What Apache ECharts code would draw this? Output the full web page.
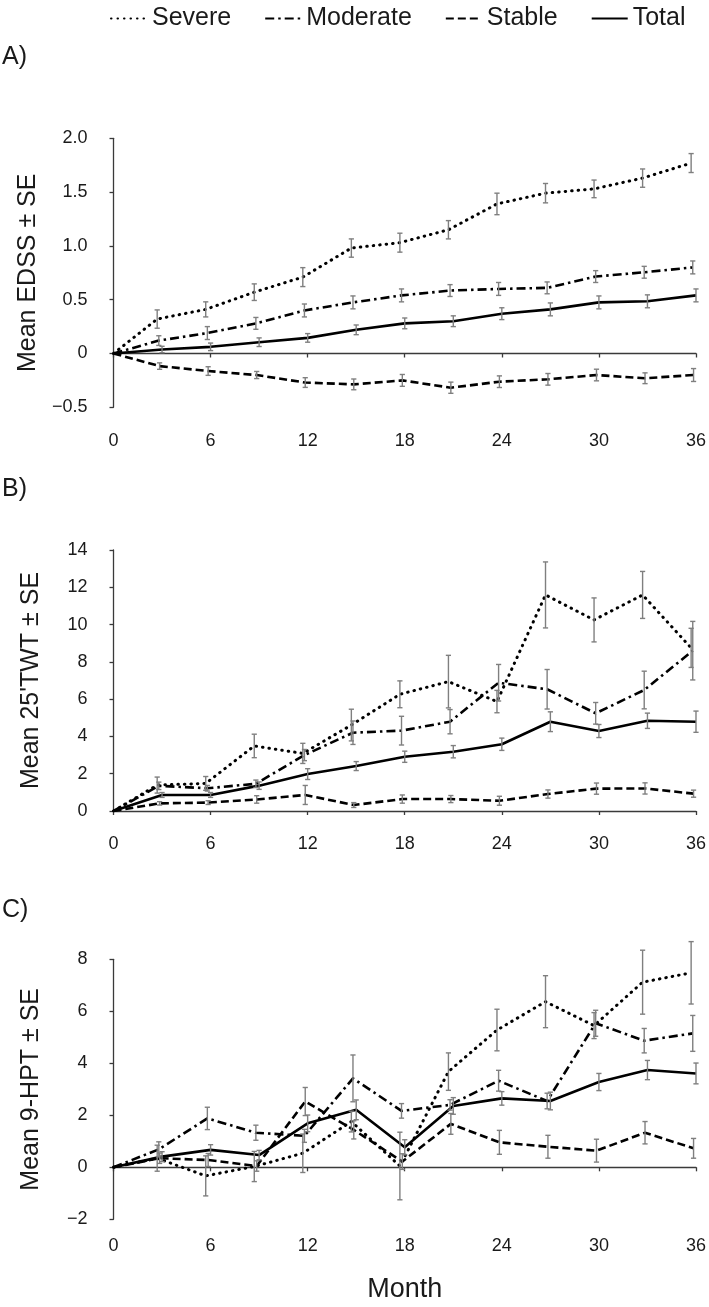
<!DOCTYPE html>
<html><head><meta charset="utf-8">
<script src="https://cdn.jsdelivr.net/npm/echarts@6.0.0/dist/echarts.min.js"></script>
<style>html,body{margin:0;padding:0;background:#fff}#c{width:709px;height:1307px}</style>
</head><body><div id="c"></div>
<script>
// ---------- DATA ----------
const months = [0, 3, 6, 9, 12, 15, 18, 21, 24, 27, 30, 33, 36];
const seriesNames = ['Severe', 'Moderate', 'Stable', 'Total'];

// A) EDSS
const edssSevere     = [0, 0.32, 0.41, 0.57, 0.71, 0.98, 1.03, 1.15, 1.39, 1.49, 1.53, 1.63, 1.77];
const edssSevereSE   = [0, 0.085, 0.07, 0.077, 0.088, 0.085, 0.088, 0.085, 0.10, 0.09, 0.082, 0.085, 0.088];
const edssModerate   = [0, 0.12, 0.19, 0.28, 0.40, 0.475, 0.54, 0.585, 0.60, 0.61, 0.715, 0.755, 0.80];
const edssModerateSE = [0, 0.045, 0.06, 0.055, 0.06, 0.06, 0.06, 0.055, 0.06, 0.055, 0.055, 0.055, 0.06];
const edssStable     = [0, -0.117, -0.163, -0.20, -0.27, -0.287, -0.25, -0.318, -0.262, -0.24, -0.20, -0.23, -0.20];
const edssStableSE   = [0, 0.03, 0.04, 0.033, 0.045, 0.05, 0.055, 0.052, 0.054, 0.054, 0.054, 0.05, 0.06];
const edssTotal      = [0, 0.037, 0.062, 0.105, 0.145, 0.22, 0.28, 0.30, 0.37, 0.41, 0.475, 0.485, 0.54];
const edssTotalSE    = [0, 0.03, 0.035, 0.04, 0.04, 0.045, 0.05, 0.05, 0.055, 0.06, 0.06, 0.06, 0.06];

// B) 25'TWT
const twtSevere     = [0, 1.39, 1.48, 3.49, 3.09, 4.61, 6.26, 6.94, 5.87, 11.59, 10.25, 11.59, 8.75];
const twtSevereSE   = [0, 0.43, 0.37, 0.63, 0.54, 0.85, 0.72, 1.41, 0.60, 1.77, 1.18, 1.26, 1.05];
const twtModerate   = [0, 1.35, 1.22, 1.46, 3.00, 4.20, 4.31, 4.79, 6.88, 6.53, 5.24, 6.49, 8.60];
const twtModerateSE = [0, 0.20, 0.15, 0.20, 0.30, 0.63, 0.77, 0.65, 0.98, 1.06, 0.58, 1.01, 1.57];
const twtStable     = [0, 0.41, 0.45, 0.62, 0.86, 0.32, 0.64, 0.64, 0.55, 0.91, 1.20, 1.21, 0.93];
const twtStableSE   = [0, 0.09, 0.10, 0.20, 0.51, 0.13, 0.22, 0.19, 0.24, 0.22, 0.30, 0.30, 0.19];
const twtTotal      = [0, 0.86, 0.86, 1.36, 1.98, 2.41, 2.91, 3.18, 3.58, 4.79, 4.29, 4.84, 4.79];
const twtTotalSE    = [0, 0.13, 0.13, 0.20, 0.29, 0.24, 0.30, 0.33, 0.33, 0.53, 0.35, 0.41, 0.57];

// C) 9-HPT
const hptSevere     = [0, 0.35, -0.33, 0.03, 0.54, 1.76, 0.05, 3.68, 5.28, 6.37, 5.45, 7.12, 7.48];
const hptSevereSE   = [0, 0.50, 0.77, 0.58, 0.74, 0.40, 1.30, 0.72, 0.80, 1.00, 0.50, 1.23, 1.20];
const hptModerate   = [0, 0.69, 1.88, 1.33, 1.21, 3.42, 2.17, 2.40, 3.33, 2.55, 5.54, 4.87, 5.15];
const hptModerateSE = [0, 0.29, 0.43, 0.29, 0.25, 0.90, 0.28, 0.20, 0.40, 0.30, 0.50, 0.47, 0.69];
const hptStable     = [0, 0.35, 0.28, 0.05, 2.53, 1.44, 0.22, 1.67, 0.96, 0.79, 0.64, 1.33, 0.73];
const hptStableSE   = [0, 0.20, 0.25, 0.20, 0.54, 0.35, 0.30, 0.40, 0.46, 0.44, 0.44, 0.43, 0.38];
const hptTotal      = [0, 0.41, 0.67, 0.47, 1.69, 2.21, 0.77, 2.36, 2.65, 2.55, 3.28, 3.74, 3.61];
const hptTotalSE    = [0, 0.19, 0.20, 0.18, 0.32, 0.38, 0.29, 0.32, 0.26, 0.34, 0.33, 0.37, 0.40];

const panelLabels = ['A)', 'B)', 'C)'];
const yTitles = ['Mean EDSS \u00b1 SE', "Mean 25'TWT \u00b1 SE", 'Mean 9-HPT \u00b1 SE'];
const xTitle = 'Month';

// ---------- STYLE ----------
const FONT = '"Liberation Sans", Arial, sans-serif';
const AXIS_COLOR = '#3a3a3a';
const TEXT_COLOR = '#1a1a1a';
const ERR_COLOR = '#7f7f7f';
const dodge = { Severe: -0.3, Moderate: -0.2, Stable: -0.15, Total: 0 };
const lineStyles = {
  Severe:   { type: [0.5, 6], cap: 'round', width: 3 },
  Moderate: { type: [9, 4, 2.5, 4], cap: 'butt', width: 2.6 },
  Stable:   { type: [8, 4], cap: 'butt', width: 2.6 },
  Total:    { type: 'solid', cap: 'butt', width: 2.6 }
};

const panels = [
  { means: [edssSevere, edssModerate, edssStable, edssTotal], ses: [edssSevereSE, edssModerateSE, edssStableSE, edssTotalSE],
    min: -0.5, max: 2, interval: 0.5, dec: 1, top: 138.3, bottom: 407.3, xOffset: 17 },
  { means: [twtSevere, twtModerate, twtStable, twtTotal], ses: [twtSevereSE, twtModerateSE, twtStableSE, twtTotalSE],
    min: 0, max: 14, interval: 2, dec: 0, top: 550, bottom: 811, xOffset: 16 },
  { means: [hptSevere, hptModerate, hptStable, hptTotal], ses: [hptSevereSE, hptModerateSE, hptStableSE, hptTotalSE],
    min: -2, max: 8, interval: 2, dec: 0, top: 959.3, bottom: 1219.3, xOffset: 10 }
];
const labelCenters = [60, 492, 913];

function xOf(m, name) { return m === 0 ? 0 : m + dodge[name]; }

function errRender(params, api) {
  const x = api.value(0), lo = api.value(1), hi = api.value(2);
  const a = api.coord([x, hi]), b = api.coord([x, lo]);
  const w = 2.6;
  const st = { stroke: ERR_COLOR, lineWidth: 1.4 };
  return { type: 'group', children: [
    { type: 'line', shape: { x1: a[0], y1: a[1], x2: b[0], y2: b[1] }, style: st },
    { type: 'line', shape: { x1: a[0] - w, y1: a[1], x2: a[0] + w, y2: a[1] }, style: st },
    { type: 'line', shape: { x1: b[0] - w, y1: b[1], x2: b[0] + w, y2: b[1] }, style: st }
  ]};
}

const grids = [], xAxes = [], yAxes = [], series = [], graphics = [];
panels.forEach((p, i) => {
  grids.push({ left: 113.5, right: 10.5, top: p.top, height: p.bottom - p.top, containLabel: false });
  xAxes.push({
    gridIndex: i, type: 'value', min: 0, max: 36, interval: 6, offset: p.xOffset,
    axisLine: { show: true, lineStyle: { color: AXIS_COLOR, width: 1.3 } },
    axisTick: { show: true, length: 4, lineStyle: { color: AXIS_COLOR, width: 1.3 } },
    splitLine: { show: false },
    axisLabel: { fontSize: 18, color: TEXT_COLOR, margin: 8, fontFamily: FONT },
    name: i === 2 ? xTitle : '', nameLocation: 'middle', nameGap: 47,
    nameTextStyle: { fontSize: 27, color: TEXT_COLOR, fontFamily: FONT }
  });
  yAxes.push({
    gridIndex: i, type: 'value', min: p.min, max: p.max, interval: p.interval, offset: 15,
    axisLine: { show: true, lineStyle: { color: AXIS_COLOR, width: 1.3 } },
    axisTick: { show: true, length: 4, lineStyle: { color: AXIS_COLOR, width: 1.3 } },
    splitLine: { show: false },
    axisLabel: { fontSize: 18, color: TEXT_COLOR, margin: 11, fontFamily: FONT,
      formatter: v => (v === 0 ? '0' : v.toFixed(p.dec)).replace('-', '\u2212') },
    name: yTitles[i], nameLocation: 'middle', nameGap: 55,
    nameTextStyle: { fontSize: 25, color: TEXT_COLOR, fontFamily: FONT }
  });
  seriesNames.forEach((name, k) => {
    const ls = lineStyles[name];
    series.push({
      type: 'line', name: name, xAxisIndex: i, yAxisIndex: i, symbol: 'none', z: 2,
      data: months.map((m, j) => [xOf(m, name), p.means[k][j]]),
      lineStyle: { color: '#000', width: ls.width, type: ls.type, cap: ls.cap, join: 'round' },
      itemStyle: { color: '#000' },
      animation: false
    });
    const errData = [];
    months.forEach((m, j) => {
      const se = p.ses[k][j];
      if (se > 0) errData.push([xOf(m, name), p.means[k][j] - se, p.means[k][j] + se]);
    });
    series.push({
      type: 'custom', name: name + ' SE', xAxisIndex: i, yAxisIndex: i, z: 3,
      renderItem: errRender, encode: { x: 0, y: [1, 2] }, data: errData, animation: false
    });
  });
  graphics.push({ type: 'text', left: 2, top: labelCenters[i] - 15,
    style: { text: panelLabels[i], font: '25px ' + FONT, fill: TEXT_COLOR } });
});

const chart = echarts.init(document.getElementById('c'), null, { renderer: 'canvas' });
chart.setOption({
  backgroundColor: '#fff',
  animation: false,
  textStyle: { fontFamily: FONT },
  legend: {
    data: seriesNames, left: 105, top: 1, itemWidth: 36, itemHeight: 14, itemGap: 33,
    itemStyle: { opacity: 0, borderWidth: 0 },
    textStyle: { fontSize: 25, color: TEXT_COLOR, fontFamily: FONT },
    selectedMode: false
  },
  grid: grids, xAxis: xAxes, yAxis: yAxes, series: series, graphic: graphics
});
</script>
</body></html>
